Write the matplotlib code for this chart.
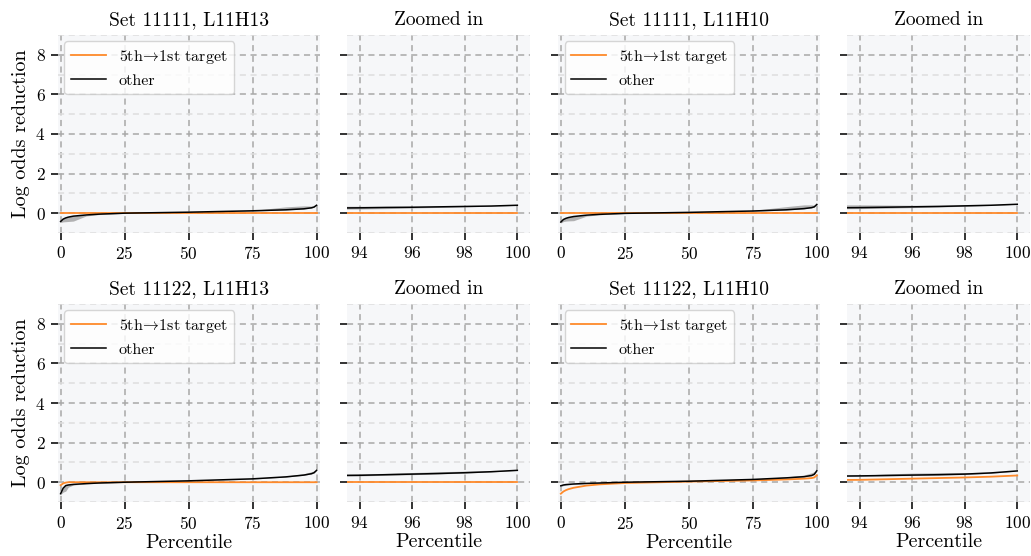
import numpy as np
import matplotlib
matplotlib.use("Agg")
import matplotlib.pyplot as plt
from matplotlib.ticker import MultipleLocator

plt.rcParams["font.family"] = ["cmr10", "DejaVu Serif"]
plt.rcParams["mathtext.fontset"] = "cm"
plt.rcParams["axes.formatter.use_mathtext"] = True

pct = [0, 1, 2, 3, 5, 10, 15, 25, 50, 75, 88, 95, 98, 99, 100]
# zoomed tail
zpct = [93, 94, 95, 96, 97, 98, 99, 100]

titles = ["Set 11111, L11H13", "Set 11111, L11H10",
          "Set 11122, L11H13", "Set 11122, L11H10"]

# "other" curve + grey band (lo / hi), full range
other_a = [-0.42, -0.30, -0.24, -0.20, -0.15, -0.09, -0.05, 0.00, 0.05, 0.12, 0.17, 0.22, 0.27, 0.31, 0.40]
lo_a    = [-0.47, -0.44, -0.43, -0.42, -0.40, -0.14, -0.07, -0.01, 0.04, 0.11, 0.16, 0.21, 0.26, 0.30, 0.40]
hi_a    = [-0.40, -0.28, -0.22, -0.18, -0.13, -0.08, -0.04, 0.01, 0.06, 0.14, 0.32, 0.37, 0.36, 0.35, 0.40]
tgt_a   = [0.00, 0.00, 0.00, 0.00, 0.00, 0.00, 0.00, 0.00, 0.00, 0.00, 0.00, 0.00, 0.00, 0.00, 0.00]

other_b = [-0.45, -0.32, -0.26, -0.22, -0.17, -0.10, -0.06, -0.01, 0.04, 0.11, 0.17, 0.23, 0.28, 0.32, 0.44]
lo_b    = [-0.50, -0.42, -0.40, -0.39, -0.38, -0.15, -0.08, -0.02, 0.03, 0.10, 0.16, 0.22, 0.27, 0.31, 0.44]
hi_b    = [-0.43, -0.30, -0.24, -0.20, -0.15, -0.09, -0.05, 0.00, 0.05, 0.14, 0.33, 0.42, 0.42, 0.40, 0.44]
tgt_b   = [0.00, 0.00, 0.00, 0.00, 0.00, 0.00, 0.00, 0.00, 0.00, 0.00, 0.00, 0.00, 0.00, 0.00, 0.00]

other_c = [-0.58, -0.30, -0.17, -0.14, -0.11, -0.07, -0.04, 0.00, 0.07, 0.17, 0.27, 0.36, 0.43, 0.48, 0.60]
lo_c    = [-0.62, -0.50, -0.45, -0.25, -0.14, -0.08, -0.05, -0.01, 0.06, 0.16, 0.26, 0.35, 0.42, 0.47, 0.60]
hi_c    = [-0.56, -0.28, -0.15, -0.12, -0.10, -0.06, -0.03, 0.01, 0.08, 0.19, 0.31, 0.43, 0.53, 0.57, 0.60]
tgt_c   = [-0.15, -0.06, -0.02, 0.00, 0.00, 0.00, 0.00, 0.00, 0.00, 0.00, 0.00, 0.00, 0.00, 0.00, 0.00]

other_d = [-0.18, -0.14, -0.12, -0.11, -0.09, -0.06, -0.04, 0.00, 0.05, 0.14, 0.22, 0.28, 0.34, 0.40, 0.58]
lo_d    = [-0.22, -0.17, -0.15, -0.13, -0.11, -0.07, -0.05, -0.01, 0.04, 0.13, 0.21, 0.27, 0.33, 0.39, 0.58]
hi_d    = [-0.16, -0.12, -0.10, -0.10, -0.08, -0.05, -0.03, 0.01, 0.06, 0.16, 0.27, 0.36, 0.48, 0.53, 0.58]
tgt_d   = [-0.58, -0.47, -0.40, -0.35, -0.28, -0.17, -0.11, -0.04, 0.03, 0.09, 0.14, 0.18, 0.21, 0.24, 0.35]

# zoomed tail values
z_other_a = [0.26, 0.27, 0.29, 0.30, 0.32, 0.34, 0.36, 0.40]
z_lo_a    = [0.20, 0.21, 0.23, 0.26, 0.29, 0.32, 0.35, 0.40]
z_hi_a    = [0.35, 0.35, 0.34, 0.34, 0.35, 0.35, 0.37, 0.40]
z_tgt_a   = [0.00, 0.00, 0.00, 0.00, 0.00, 0.00, 0.00, 0.00]

z_other_b = [0.27, 0.28, 0.30, 0.32, 0.34, 0.37, 0.40, 0.45]
z_lo_b    = [0.22, 0.23, 0.25, 0.28, 0.31, 0.35, 0.39, 0.45]
z_hi_b    = [0.42, 0.42, 0.41, 0.40, 0.40, 0.41, 0.43, 0.45]
z_tgt_b   = [0.00, 0.00, 0.00, 0.00, 0.00, 0.00, 0.00, 0.00]

z_other_c = [0.34, 0.35, 0.38, 0.41, 0.44, 0.48, 0.53, 0.60]
z_lo_c    = [0.31, 0.32, 0.35, 0.38, 0.42, 0.46, 0.52, 0.60]
z_hi_c    = [0.40, 0.42, 0.45, 0.49, 0.53, 0.56, 0.58, 0.60]
z_tgt_c   = [0.00, 0.00, 0.00, 0.00, 0.00, 0.00, 0.00, 0.00]

z_other_d = [0.31, 0.32, 0.34, 0.36, 0.38, 0.41, 0.47, 0.57]
z_lo_d    = [0.29, 0.30, 0.32, 0.34, 0.36, 0.39, 0.45, 0.57]
z_hi_d    = [0.33, 0.35, 0.42, 0.46, 0.48, 0.49, 0.50, 0.57]
z_tgt_d   = [0.11, 0.12, 0.15, 0.18, 0.21, 0.24, 0.28, 0.34]

panels = [
    (other_a, lo_a, hi_a, tgt_a, z_other_a, z_lo_a, z_hi_a, z_tgt_a),
    (other_b, lo_b, hi_b, tgt_b, z_other_b, z_lo_b, z_hi_b, z_tgt_b),
    (other_c, lo_c, hi_c, tgt_c, z_other_c, z_lo_c, z_hi_c, z_tgt_c),
    (other_d, lo_d, hi_d, tgt_d, z_other_d, z_lo_d, z_hi_d, z_tgt_d),
]

ORANGE = "#ff8a2a"
BAND = "#8c8c8c"
BG = "#f6f7f9"

fig = plt.figure(figsize=(10.31, 5.56), dpi=100)

main_l = [0.0563, 0.5415]
zoom_l = [0.3363, 0.8212]
main_w, zoom_w = 0.254, 0.1782
row_b = [0.581, 0.0971]
row_h = 0.356


def style(ax, show_ylab):
    ax.set_facecolor(BG)
    for s in ax.spines.values():
        s.set_visible(False)
    ax.set_ylim(-1, 9)
    ax.yaxis.set_major_locator(MultipleLocator(2))
    ax.yaxis.set_minor_locator(MultipleLocator(1))
    ax.grid(True, which="major", ls=(0, (4, 3)), color="#a8a8a8", lw=1.1)
    ax.grid(True, which="minor", axis="y", ls=(0, (4, 3)), color="#dedede", lw=1.1)
    ax.tick_params(which="major", length=5, width=1.3, color="#222222", labelsize=12.5, pad=4)
    ax.tick_params(which="minor", length=0)
    if not show_ylab:
        ax.tick_params(axis="y", labelleft=False)


for i, (oth, lo, hi, tgt, zo, zl, zh, zt) in enumerate(panels):
    r, c = divmod(i, 2)
    ax = fig.add_axes([main_l[c], row_b[r], main_w, row_h])
    style(ax, c == 0)
    ax.fill_between(pct, lo, hi, color=BAND, alpha=0.65, lw=0)
    ax.plot(pct, tgt, color=ORANGE, lw=1.3, label="5th$\\!\\rightarrow\\!$1st target")
    ax.plot(pct, oth, color="black", lw=1.1, label="other")
    ax.set_xlim(-1, 101.3)
    ax.set_xticks([0, 25, 50, 75, 100])
    ax.set_title(titles[i], fontsize=14, pad=7)
    if c == 0:
        ax.set_ylabel("Log odds reduction", fontsize=14.5, labelpad=4)
    if r == 1:
        ax.set_xlabel("Percentile", fontsize=14.5, labelpad=2)
    leg = ax.legend(loc="upper left", fontsize=11.5, frameon=True, fancybox=True,
                    handlelength=2.2, borderaxespad=0.4)
    leg.get_frame().set_edgecolor("#cccccc")
    leg.get_frame().set_facecolor("white")
    leg.get_frame().set_alpha(0.8)

    az = fig.add_axes([zoom_l[c], row_b[r], zoom_w, row_h])
    style(az, False)
    az.fill_between(zpct, zl, zh, color=BAND, alpha=0.65, lw=0)
    az.plot(zpct, zt, color=ORANGE, lw=1.3)
    az.plot(zpct, zo, color="black", lw=1.1)
    az.set_xlim(93.5, 100.5)
    az.set_xticks([94, 96, 98, 100])
    az.set_title("Zoomed in", fontsize=14, pad=7)
    if r == 1:
        az.set_xlabel("Percentile", fontsize=14.5, labelpad=2)

fig.savefig("out.png", dpi=100)
